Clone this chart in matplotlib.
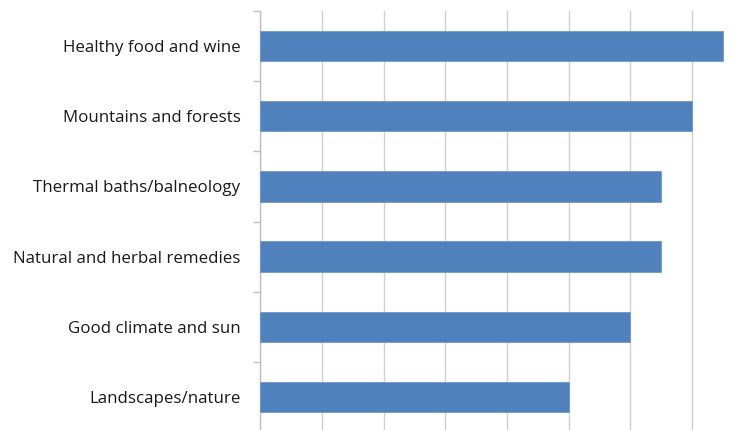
import matplotlib
matplotlib.use("Agg")
import matplotlib.pyplot as plt
import numpy as np

# -------------------------
# Data
# -------------------------
categories = [
    "Landscapes/nature",
    "Good climate and sun",
    "Natural and herbal remedies",
    "Thermal baths/balneology",
    "Mountains and forests",
    "Healthy food and wine",
]
values = [5.0, 6.0, 6.5, 6.5, 7.0, 7.5]

plt.rcParams["font.family"] = ["Open Sans", "DejaVu Sans"]

fig = plt.figure(figsize=(7.43, 4.30), dpi=100)
ax = fig.add_axes([260 / 743, -2 / 430, (754 - 260) / 743, 421 / 430])

y = np.arange(len(categories))
ax.barh(y, values, height=0.43, color="#4F81BD", edgecolor="#6F98CA", linewidth=0.6, zorder=3)

ax.set_xlim(0, 8)
ax.set_ylim(-0.5, len(categories) - 0.5)
ax.set_xticks(np.arange(0, 9, 1))
ax.set_xticklabels([])
ax.tick_params(axis="x", length=0)
ax.grid(axis="x", color="#D0D0D0", linewidth=1.0, zorder=0)

ax.set_yticks(y)
ax.set_yticklabels(categories, fontsize=12.2, color="#1a1a1a")
ax.tick_params(axis="y", which="major", length=0, pad=14)
ax.set_yticks(np.arange(-0.5, len(categories), 1), minor=True)
ax.tick_params(axis="y", which="minor", length=5, color="#BFBFBF", width=1.0)

for s in ["top", "right", "bottom"]:
    ax.spines[s].set_visible(False)
ax.spines["left"].set_color("#BFBFBF")
ax.spines["left"].set_linewidth(1.0)

fig.savefig("out.png", dpi=100)
